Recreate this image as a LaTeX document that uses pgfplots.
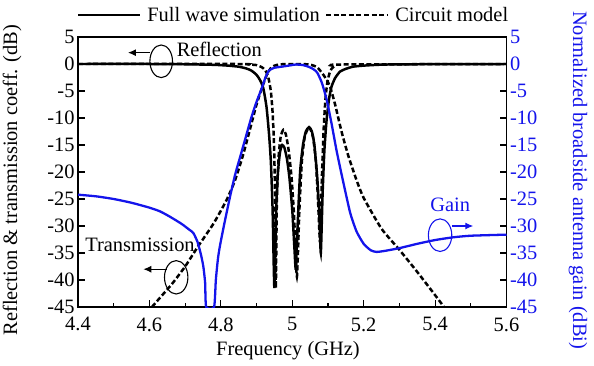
\documentclass[border=0pt]{standalone}
\usepackage{pgfplots}
\pgfplotsset{compat=1.18}
\usetikzlibrary{arrows.meta}
\usepackage{fontspec}
\setmainfont{Liberation Serif}
\definecolor{gainblue}{RGB}{20,20,235}
\newcommand{\fs}{\fontsize{20.5}{23}\selectfont}
\begin{document}
\begin{tikzpicture}[font=\fs]
\path[use as bounding box] (-78bp,-59bp) rectangle (516bp,307bp);
\pgfplotsset{
  common/.style={
    at={(0,0)}, anchor=south west, scale only axis,
    width=428.5bp, height=270bp,
    xmin=4.4, xmax=5.6, ymin=-45, ymax=5,
    ytick={-45,-40,...,5},
    major tick length=7bp, minor tick length=4bp,
    tick style={line width=1.1pt, black},
    axis line style={line width=1.2pt},
    /pgf/number format/assume math mode=true,
    tick label style={font=\fs},
  }
}
\begin{axis}[common,
  xtick={4.4,4.6,4.8,5.0,5.2,5.4,5.6},
  xticklabels={4.4,4.6,4.8,5,5.2,5.4,5.6},
  xticklabel style={yshift=-7bp},
  minor x tick num=1,
  xtick pos=bottom, ytick pos=left,
  xlabel={Frequency (GHz)},
  xlabel style={at={(axis description cs:0.49,-0.162)}, anchor=center},
  ylabel={Reflection \& transmission coeff. (dB)},
  ylabel style={at={(axis description cs:-0.154,0.47)}, anchor=center},
  legend style={draw=none, fill=none, at={(0.5006,1.081)}, anchor=center,
    font=\fs, nodes={inner sep=0pt},
    /tikz/every odd column/.append style={column sep=6bp},
    /tikz/every even column/.append style={column sep=5bp}},
  legend columns=2,
  legend image code/.code={\draw[#1] (0bp,0bp) -- (62bp,0bp);},
]
% Full wave reflection
\addplot[black, line width=2.5pt, smooth, tension=0.35] coordinates {
(4.4,0) (4.6,0) (4.7,-0.05) (4.78,-0.15) (4.82,-0.3) (4.85,-0.5) (4.87,-0.8)
(4.885,-1.2) (4.9,-2) (4.91,-3) (4.919,-4.5) (4.928,-8) (4.935,-13) (4.94,-18)
(4.945,-27) (4.950,-41.5) (4.955,-27) (4.96,-20) (4.966,-16.2) (4.972,-15)
(4.978,-15.5) (4.985,-17.5) (4.992,-21) (5.0,-27) (5.006,-34) (5.01,-38)
(5.015,-30) (5.022,-20) (5.03,-15) (5.038,-12.5) (5.047,-11.7) (5.055,-12.5)
(5.062,-15) (5.07,-21) (5.076,-28) (5.080,-35) (5.085,-24) (5.09,-16)
(5.096,-10.5) (5.103,-6.5) (5.11,-4.2) (5.12,-2.6) (5.134,-1.4) (5.15,-0.9)
(5.17,-0.5) (5.2,-0.3) (5.26,-0.1) (5.4,-0.03) (5.6,0)
};
\addlegendentry{Full wave simulation}
% Circuit model reflection
\addplot[black, line width=2.5pt, dash pattern=on 5bp off 2.6bp, smooth, tension=0.35] coordinates {
(4.4,0) (4.85,0) (4.88,-0.1) (4.9,-0.2) (4.915,-0.6) (4.925,-1.2) (4.933,-2.5)
(4.94,-5) (4.945,-9) (4.949,-15) (4.952,-25) (4.954,-41.5) (4.957,-25)
(4.962,-17) (4.968,-13.3) (4.975,-12.2) (4.982,-13) (4.99,-16) (4.998,-21)
(5.005,-28) (5.013,-39.4) (5.02,-27) (5.027,-18) (5.035,-13.5) (5.047,-11.7)
(5.058,-13.5) (5.066,-18) (5.072,-25) (5.078,-33) (5.083,-21) (5.088,-12)
(5.093,-6.5) (5.098,-3.5) (5.104,-1.8) (5.11,-0.9) (5.118,-0.4) (5.13,-0.1) (5.6,0)
};
\addlegendentry{Circuit model}
% Circuit model transmission
\addplot[black, line width=2.5pt, dash pattern=on 5bp off 2.6bp, smooth, tension=0.35, forget plot] coordinates {
(4.607,-45) (4.64,-42.5) (4.666,-40.5) (4.7,-37.5) (4.736,-33.8) (4.78,-29.5)
(4.816,-25.2) (4.84,-21.5) (4.862,-16.9) (4.88,-12.5) (4.9,-7.5) (4.918,-3.9)
(4.93,-1.8) (4.942,-0.6) (4.955,-0.2) (4.97,-0.05) (5.0,0) (5.04,-0.05)
(5.055,-0.2) (5.07,-0.6) (5.085,-1.8) (5.096,-2.9) (5.106,-4.2) (5.12,-7.5)
(5.138,-12.5) (5.157,-17) (5.18,-21.5) (5.2,-24.8) (5.25,-30.5) (5.3,-34.4)
(5.35,-38.5) (5.4,-42.8) (5.425,-45)
};
% annotations
\node[anchor=base west, inner sep=0pt] at (axis cs:4.676,1.35) {Reflection};
\draw[line width=1.1pt] (axis cs:4.633,0.5) ellipse [x radius=11.3bp, y radius=16.3bp];
\draw[line width=1.1pt, -{Latex[length=8bp,width=7bp]}] (axis cs:4.602,2.1) -- (axis cs:4.54,2.1);
\node[anchor=base west, inner sep=0pt] at (axis cs:4.42,-34.8) {Transmission};
\draw[line width=1.1pt] (axis cs:4.675,-39.5) ellipse [x radius=11.7bp, y radius=16.7bp];
\draw[line width=1.1pt, -{Latex[length=8bp,width=7bp]}] (axis cs:4.648,-38.0) -- (axis cs:4.583,-38.0);
\end{axis}
\begin{axis}[common,
  axis x line=none, axis y line*=right,
  yticklabel style={text=gainblue},
  ylabel={Normalized broadside antenna gain (dBi)},
  ylabel style={at={(axis description cs:1.167,0.47)}, anchor=center, rotate=180, text=gainblue},
]
\addplot[gainblue, line width=2.3pt, smooth, tension=0.35] coordinates {
(4.4,-24.2) (4.45,-24.5) (4.5,-25) (4.55,-25.7) (4.6,-26.6) (4.63,-27.3)
(4.658,-28.3) (4.69,-29.6) (4.71,-30.6) (4.723,-31.3) (4.735,-33) (4.745,-35.5)
(4.751,-37.5) (4.756,-40.5) (4.759,-45) (4.781,-45) (4.786,-40) (4.792,-36)
(4.798,-33.5) (4.81,-29.5) (4.826,-24.5) (4.84,-20.5) (4.855,-17) (4.87,-13.5)
(4.885,-10) (4.9,-7) (4.914,-4.6) (4.925,-2.5) (4.935,-1.2) (4.95,-0.7)
(4.97,-0.5) (4.99,-0.3) (5.01,-0.1) (5.03,-0.2) (5.045,-0.5) (5.058,-0.9)
(5.07,-1.6) (5.083,-3.5) (5.096,-6.5) (5.11,-11) (5.124,-16) (5.14,-21)
(5.162,-27.5) (5.18,-31) (5.2,-33.3) (5.22,-34.5) (5.236,-34.8) (5.26,-34.6)
(5.3,-34.1) (5.35,-33.3) (5.4,-32.6) (5.45,-32.1) (5.5,-31.8) (5.6,-31.6)
};
\node[anchor=base west, inner sep=0pt, text=gainblue] at (axis cs:5.386,-27.3) {Gain};
\draw[gainblue, line width=1.1pt] (axis cs:5.414,-31.7) ellipse [x radius=11.7bp, y radius=16.3bp];
\draw[gainblue, line width=1.1pt, -{Latex[length=8bp,width=7bp]}] (axis cs:5.447,-30) -- (axis cs:5.507,-30);
\end{axis}
\end{tikzpicture}
\end{document}
